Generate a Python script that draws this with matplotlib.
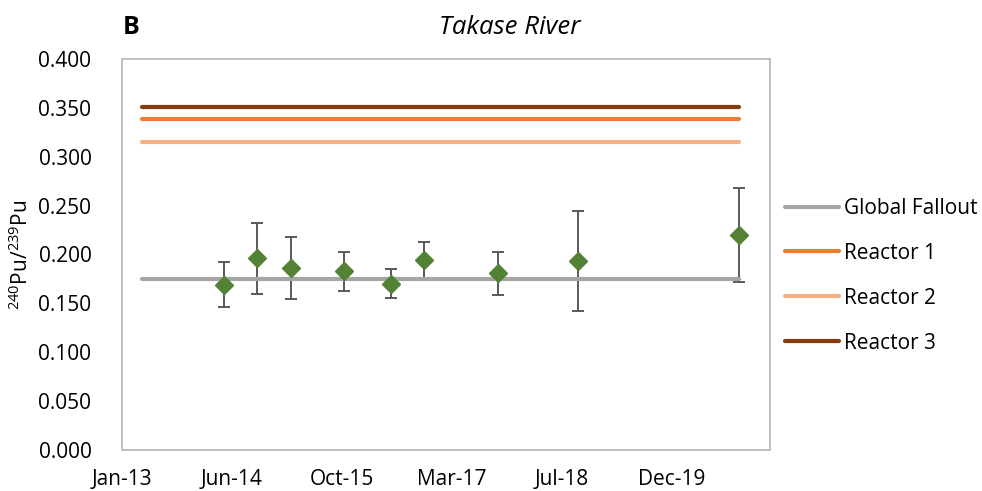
import matplotlib
matplotlib.use("Agg")
import matplotlib.pyplot as plt
import matplotlib.dates as mdates
import numpy as np
import pandas as pd

plt.rcParams['font.family'] = ['Open Sans', 'DejaVu Sans']
plt.rcParams['mathtext.fontset'] = 'custom'
plt.rcParams['mathtext.rm'] = 'Open Sans'

# sample dates and measured 240Pu/239Pu ratios
sample_dates = pd.to_datetime(["2014-05-05", "2014-10-05", "2015-03-06", "2015-11-03",
                               "2016-06-02", "2016-11-02", "2017-10-02", "2018-09-30",
                               "2020-09-30"])
ratio = [0.169, 0.196, 0.186, 0.183, 0.170, 0.194, 0.181, 0.193, 0.220]
ratio_err = [0.023, 0.036, 0.032, 0.020, 0.015, 0.019, 0.022, 0.051, 0.048]

# reference ratios
ref_dates = pd.to_datetime(["2013-04-29", "2020-09-30"])
ref_names = ["Global Fallout", "Reactor 1", "Reactor 2", "Reactor 3"]
ref_values = [0.175, 0.339, 0.315, 0.351]
ref_colors = ["#A5A5A5", "#ED7D31", "#F4B183", "#843C0C"]

axis_start = pd.Timestamp("2013-01-28")
tick_step_days = 500
axis_days = 2945

fig = plt.figure(figsize=(9.82, 4.91), dpi=100)
ax = fig.add_axes([122/982, 1-450/491, 648/982, 391/491])

ax.errorbar(sample_dates, ratio, yerr=ratio_err, fmt='none', ecolor='#595959',
            elinewidth=1.4, capsize=4.3, capthick=1.4, zorder=2)
for name, val, col in zip(ref_names, ref_values, ref_colors):
    ax.plot(ref_dates, [val, val], color=col, lw=3.0, solid_capstyle='round',
            label=name, zorder=3)
ax.plot(sample_dates, ratio, 'D', color='#548235', ms=9, mec='#548235', zorder=4)

ax.set_ylim(0, 0.4)
ax.set_yticks(np.arange(0, 0.401, 0.05))
ax.yaxis.set_major_formatter(matplotlib.ticker.FormatStrFormatter('%.3f'))
ticks = [axis_start + pd.Timedelta(days=tick_step_days * k) for k in range(6)]
ax.set_xticks(ticks)
ax.xaxis.set_major_formatter(mdates.DateFormatter('%b-%y'))
ax.set_xlim(axis_start, axis_start + pd.Timedelta(days=axis_days))
ax.tick_params(length=0, labelsize=15, colors='black')
ax.tick_params(axis='y', pad=22)
ax.tick_params(axis='x', pad=14)
for s in ax.spines.values():
    s.set_color('#BFBFBF')
    s.set_linewidth(1.4)

ax.set_ylabel(r'$^{240}$Pu/$^{239}$Pu', fontsize=15)
ax.yaxis.set_label_coords(-0.137, 0.5)

fig.text(510/982, 1-27/491, 'Takase River', fontsize=18.5, style='italic',
         ha='center', va='center')
fig.text(123/982, 1-27/491, 'B', fontsize=18, fontweight='bold',
         ha='left', va='center')

ax.legend(loc='upper left', bbox_to_anchor=(1.023, 0.645), frameon=False,
          fontsize=15, handlelength=2.6, handletextpad=0.25, labelspacing=1.15,
          borderpad=0, borderaxespad=0)

fig.savefig('out.png', dpi=100)
